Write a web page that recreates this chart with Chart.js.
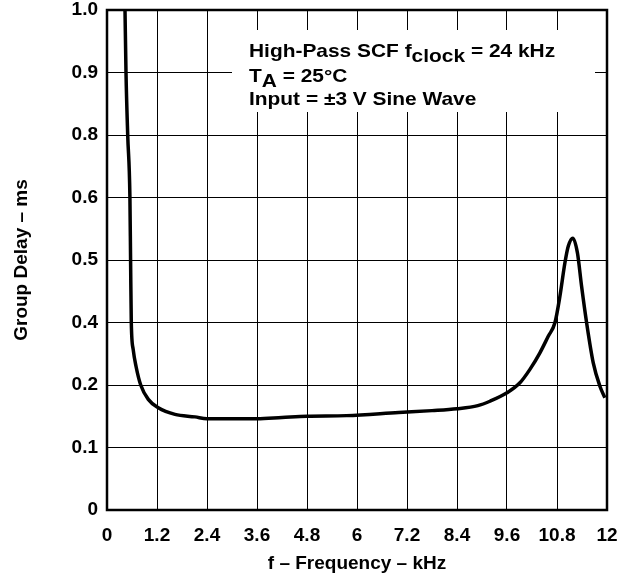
<!DOCTYPE html>
<html>
<head>
<meta charset="utf-8">
<script src="https://cdn.jsdelivr.net/npm/chart.js@4.4.1/dist/chart.umd.min.js"></script>
<style>
  body { margin: 0; background: #fff; }
</style>
</head>
<body>
<canvas id="myChart" width="621" height="581"></canvas>
<script>
// frequency in kHz, group delay in ms (as read against the printed y labels)
const freq = [0.432, 0.456, 0.497, 0.55, 0.566, 0.583, 0.628, 0.696, 0.809, 0.991, 1.231, 1.632, 2.112, 2.4, 3.0, 3.6, 4.2, 4.8, 5.75, 7.0, 7.8, 8.4, 8.9, 9.19, 9.6, 9.91, 10.15, 10.39, 10.59, 10.75, 10.87, 10.99, 11.07, 11.18, 11.29, 11.39, 11.51, 11.67, 11.83, 11.95];
const delay = [1.0, 0.9, 0.8, 0.6, 0.5, 0.4, 0.314, 0.26, 0.2, 0.177, 0.1635, 0.153, 0.149, 0.146, 0.146, 0.146, 0.148, 0.15, 0.151, 0.156, 0.159, 0.162, 0.167, 0.174, 0.1875, 0.207, 0.25, 0.303, 0.356, 0.399, 0.442, 0.4955, 0.522, 0.535, 0.5115, 0.458, 0.4, 0.271, 0.198, 0.1795];

const xTickLabels = ['0', '1.2', '2.4', '3.6', '4.8', '6', '7.2', '8.4', '9.6', '10.8', '12'];
const yTickLabels = ['0', '0.1', '0.2', '0.4', '0.5', '0.6', '0.8', '0.9', '1.0'];

const noteLines = [
  [['High-Pass SCF f', 0], ['clock', 5], [' = 24 kHz', 0]],
  [['T', 0], ['A', 5], [' = 25°C', 0]],
  [['Input = ±3 V Sine Wave', 0]]
];

const yTickValues = yTickLabels.map(Number);

// the printed y axis is evenly spaced per label, so map a value onto label steps
function toAxis (v) {
  for (let i = 0; i < yTickValues.length - 1; i++) {
    const a = yTickValues[i], b = yTickValues[i + 1];
    if (v <= b || i === yTickValues.length - 2) {
      return i + (v - a) / (b - a);
    }
  }
}

const points = freq.map((f, i) => ({ x: f, y: toAxis(delay[i]) }));

const fontFamily = '"Liberation Sans", Arial, Helvetica, sans-serif';

const frame = {
  id: 'frame',
  beforeDatasetsDraw (chart) {
    const { ctx, chartArea: a } = chart;
    ctx.save();
    // white patch behind the note text
    ctx.fillStyle = '#fff';
    ctx.fillRect(a.left + 125, a.top + 20, 363, 82);
    ctx.fillStyle = '#000';
    ctx.font = 'bold 18.5px ' + fontFamily;
    ctx.textBaseline = 'alphabetic';
    const baselines = [47, 72, 95];
    noteLines.forEach((runs, li) => {
      ctx.save();
      ctx.translate(a.left + 142, a.top + baselines[li]);
      ctx.scale(1.13, 1);
      let cx = 0;
      runs.forEach(([t, drop]) => {
        ctx.fillText(t, cx, drop);
        cx += ctx.measureText(t).width;
      });
      ctx.restore();
    });
    ctx.restore();
  },
  afterDatasetsDraw (chart) {
    const { ctx, chartArea: a } = chart;
    ctx.save();
    ctx.strokeStyle = '#000';
    ctx.lineWidth = 2.5;
    ctx.strokeRect(a.left, a.top, a.right - a.left, a.bottom - a.top);
    ctx.restore();
  }
};

const ctx = document.getElementById('myChart').getContext('2d');
const chart = new Chart(ctx, {
  type: 'line',
  data: {
    datasets: [{
      data: points,
      borderColor: '#000',
      borderWidth: 3.5,
      pointRadius: 0,
      fill: false,
      cubicInterpolationMode: 'monotone'
    }]
  },
  options: {
    responsive: false,
    animation: false,
    layout: { padding: { left: 0, right: 14, top: 10, bottom: 0 } },
    plugins: {
      legend: { display: false },
      tooltip: { enabled: false }
    },
    scales: {
      x: {
        type: 'linear',
        min: 0,
        max: 12,
        afterBuildTicks: (scale) => {
          scale.ticks = xTickLabels.map(t => ({ value: Number(t) }));
        },
        afterFit: (scale) => {
          scale.height = 71;
          scale.paddingLeft = 0;
          scale.paddingRight = 0;
        },
        grid: { color: '#000', lineWidth: 1, drawTicks: false },
        border: { display: false },
        ticks: {
          color: '#000',
          padding: 14,
          maxRotation: 0,
          autoSkip: false,
          font: { family: fontFamily, size: 19, weight: 'bold' },
          callback: (v) => xTickLabels[xTickLabels.map(Number).indexOf(v)]
        },
        title: {
          display: true,
          text: 'f – Frequency – kHz',
          color: '#000',
          padding: { top: 0, bottom: 6 },
          font: { family: fontFamily, size: 19, weight: 'bold' }
        }
      },
      y: {
        type: 'linear',
        min: 0,
        max: yTickLabels.length - 1,
        afterFit: (scale) => {
          scale.width = 107;
          scale.paddingTop = 0;
          scale.paddingBottom = 0;
        },
        grid: { color: '#000', lineWidth: 1, drawTicks: false },
        border: { display: false },
        ticks: {
          color: '#000',
          stepSize: 1,
          padding: 9,
          autoSkip: false,
          font: { family: fontFamily, size: 19, weight: 'bold' },
          callback: (v) => yTickLabels[v]
        },
        title: {
          display: true,
          text: 'Group Delay – ms',
          color: '#000',
          padding: { top: 10, bottom: 0 },
          font: { family: fontFamily, size: 19, weight: 'bold' }
        }
      }
    }
  },
  plugins: [frame]
});
</script>
</body>
</html>
